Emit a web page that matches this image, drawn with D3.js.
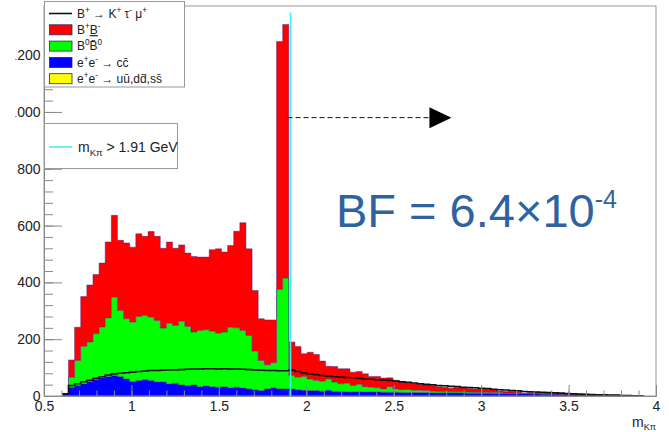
<!DOCTYPE html>
<html>
<head>
<meta charset="utf-8">
<script src="https://cdn.jsdelivr.net/npm/d3@7"></script>
<style>
   body { margin: 0; background: #fff; }
   svg { display: block; font-family: "Liberation Sans", Arial, Helvetica, sans-serif; }
</style>
</head>
<body>
<svg id="chart" width="669" height="432"></svg>
<script>
/*jslint browser: true*/
/*global d3*/

// m_Kpi histogram bins: 0.035 wide, first filled bin starts at 0.605
var binStart = 0.605,
   binWidth = 0.035;

// stacked backgrounds, one value per bin (not cumulative)
var ccbarCounts = [8, 31, 37, 43, 49, 57, 64, 69, 72, 69, 60, 51, 55, 58, 55, 49, 49, 43, 45, 39,
   37, 39, 33, 35, 33, 31, 33, 29, 31, 28, 25, 22, 19, 25, 29, 25, 25, 25, 22, 20,
   19, 19, 17, 20, 16, 16, 15, 15, 15, 14, 14, 14, 13, 13, 13, 12, 12, 12, 12, 12,
   11, 11, 11, 11, 11, 11, 10, 10, 10, 10, 9, 9, 9, 8, 8, 7, 7, 7, 6, 6,
   6, 5, 5, 5, 5, 4, 4, 3, 3, 2, 2, 2, 1, 1, 1];
var b0b0Counts = [0, 35, 88, 132, 141, 162, 179, 206, 276, 232, 212, 209, 225, 225, 223, 217, 190, 213, 203, 224,
   208, 186, 198, 198, 195, 190, 192, 213, 209, 203, 188, 136, 106, 85, 88, 350, 390, 47, 44, 49,
   41, 36, 35, 40, 33, 27, 30, 22, 26, 19, 17, 15, 12, 20, 12, 10, 11, 8, 8, 7,
   6, 5, 5, 4, 4, 4, 4, 3, 3, 3, 3, 3, 2, 2, 2, 2, 1, 1, 1, 1,
   0, 1, 0, 0, 0, 0, 0, 0, 0, 0, 0, 0, 0, 0, 0];
var bpbmCounts = [0, 61, 117, 175, 201, 209, 225, 267, 288, 247, 267, 264, 291, 279, 301, 296, 281, 286, 272, 269,
   258, 266, 258, 256, 287, 297, 282, 288, 340, 379, 305, 213, 147, 158, 151, 873, 893, 118, 108, 80,
   94, 91, 71, 45, 55, 53, 51, 47, 45, 45, 38, 40, 38, 31, 30, 27, 22, 23, 21, 20,
   18, 17, 15, 12, 14, 13, 12, 12, 11, 10, 10, 6, 5, 5, 3, 1, 4, 6, 3, 2,
   2, 2, 2, 2, 1, 2, 1, 1, 0, 1, 0, 0, 1, 0, 0];
// e+e- -> uu,dd,ss: nothing left after the selection
var udsCounts = [];

// signal B+ -> K+ tau- mu+, drawn as a line on top
var signalCounts = [8, 37, 43, 50, 55, 62, 68, 74, 78, 80, 82, 84, 86, 88, 90, 90, 91, 92, 92, 93,
   94, 95, 95, 96, 96, 95, 96, 95, 95, 94, 93, 92, 91, 90, 90, 89, 89, 91, 86, 81,
   78, 75, 72, 70, 68, 67, 65, 64, 62, 60, 59, 57, 56, 55, 53, 50, 48, 46, 43, 41,
   39, 37, 36, 34, 33, 31, 30, 29, 27, 26, 24, 22, 21, 19, 18, 16, 15, 14, 13, 12,
   11, 10, 9, 8, 7, 6, 5, 4, 4, 3, 3, 2, 2, 1, 1];

var xTicks = [0.5, 1, 1.5, 2, 2.5, 3, 3.5, 4],
   yTicks = [0, 200, 400, 600, 800, 1000, 1200];

// selection cut and the arrow showing the kept region
var cutValue = 1.91,
   cutTop = 1350,
   arrowEnd = 2.83,
   arrowLevel = 980,
   bfText = "BF = 6.4\u00d710",
   bfExponent = "-4";

(function () {
   "use strict";
   var svg = d3.select("#chart"),
      W = 669,
      H = 432,
      margin = {top: 6, right: 13, bottom: 36, left: 44},
      x = d3.scaleLinear().domain([0.5, 4]).range([margin.left, W - margin.right]),
      y = d3.scaleLinear().domain([0, 1373]).range([H - margin.bottom, margin.top]),
      keys = ["uds", "ccbar", "b0b0", "bpbm"],
      colors = {uds: "#ffff00", ccbar: "#0000ff", b0b0: "#00ff00", bpbm: "#ff0000"},
      rows,
      series,
      plot;

   rows = ccbarCounts.map(function (c, i) {
      return {
         lo: binStart + i * binWidth,
         uds: udsCounts[i] || 0,
         ccbar: c,
         b0b0: b0b0Counts[i],
         bpbm: bpbmCounts[i],
         sig: signalCounts[i]
      };
   });

   series = d3.stack().keys(keys)(rows);

   svg.append("rect").attr("width", W).attr("height", H).attr("fill", "#fff");

   svg.append("clipPath").attr("id", "plotClip")
      .append("rect")
      .attr("x", margin.left).attr("y", margin.top)
      .attr("width", W - margin.left - margin.right)
      .attr("height", H - margin.top - margin.bottom);

   plot = svg.append("g").attr("clip-path", "url(#plotClip)");

   //step points, with an extra one closing the last bin
   function stepPoints(s) {
      var pts = s.map(function (d) {
         return {x: d.data.lo, y0: d[0], y1: d[1]};
      }),
         last = pts[pts.length - 1];
      pts.push({x: last.x + binWidth, y0: last.y0, y1: last.y1});
      return pts;
   }

   var area = d3.area().curve(d3.curveStepAfter)
      .x(function (d) { return x(d.x); })
      .y0(function (d) { return y(d.y0); })
      .y1(function (d) { return y(d.y1); });

   var topLine = d3.line().curve(d3.curveStepAfter)
      .x(function (d) { return x(d.x); })
      .y(function (d) { return y(d.y1); });

   plot.selectAll(".layer").data(series).enter().append("path")
      .attr("class", "layer")
      .attr("d", function (s) { return area(stepPoints(s)); })
      .attr("fill", function (s) { return colors[s.key]; });

   //histogram outlines
   plot.selectAll(".edge").data(series.slice(1)).enter().append("path")
      .attr("class", "edge")
      .attr("d", function (s) { return topLine(stepPoints(s)); })
      .attr("fill", "none")
      .attr("stroke", "#3a1f8a")
      .attr("stroke-opacity", 0.55)
      .attr("stroke-width", 0.8);

   //signal
   var sigPts = rows.map(function (d) { return {x: d.lo, y1: d.sig}; });
   sigPts.push({x: sigPts[sigPts.length - 1].x + binWidth, y1: sigPts[sigPts.length - 1].y1});
   plot.append("path")
      .attr("d", topLine(sigPts))
      .attr("fill", "none")
      .attr("stroke", "#111")
      .attr("stroke-width", 1.6);

   //cut line
   plot.append("line")
      .attr("x1", x(cutValue)).attr("x2", x(cutValue))
      .attr("y1", y(0)).attr("y2", y(cutTop))
      .attr("stroke", "#3ff0f0")
      .attr("stroke-width", 1.6);

   //arrow
   plot.append("line")
      .attr("x1", x(cutValue) - 3).attr("x2", x(arrowEnd) - 22)
      .attr("y1", y(arrowLevel)).attr("y2", y(arrowLevel))
      .attr("stroke", "#111")
      .attr("stroke-width", 1)
      .attr("stroke-dasharray", "5,3");
   plot.append("path")
      .attr("d", "M" + x(arrowEnd) + "," + y(arrowLevel) +
         "L" + (x(arrowEnd) - 22) + "," + (y(arrowLevel) - 10.5) +
         "L" + (x(arrowEnd) - 22) + "," + (y(arrowLevel) + 10.5) + "Z")
      .attr("fill", "#000");

   //frame
   svg.append("rect")
      .attr("x", margin.left).attr("y", margin.top)
      .attr("width", W - margin.left - margin.right)
      .attr("height", H - margin.top - margin.bottom)
      .attr("fill", "none")
      .attr("stroke", "#999")
      .attr("stroke-width", 1);

   //axes, ticks pointing inwards
   var axisColor = "#8a8a8a";

   var xMinor = svg.append("g")
      .attr("transform", "translate(0," + y(0) + ")")
      .call(d3.axisBottom(x).tickValues(d3.range(0.5, 4.001, 0.1))
         .tickSize(-5.5).tickSizeOuter(0).tickFormat(""));
   var xMajor = svg.append("g")
      .attr("transform", "translate(0," + y(0) + ")")
      .call(d3.axisBottom(x).tickValues(xTicks)
         .tickSize(-11).tickSizeOuter(0).tickPadding(5)
         .tickFormat(function (d) { return String(d); }));

   //the picture is cropped on the left, the leading "1" of 1000/1200 is cut
   svg.append("clipPath").attr("id", "leftCrop")
      .append("rect").attr("x", 15.5).attr("y", 0).attr("width", W).attr("height", H);
   var yWrap = svg.append("g").attr("clip-path", "url(#leftCrop)");

   var yMinor = yWrap.append("g")
      .attr("transform", "translate(" + x(0.5) + ",0)")
      .call(d3.axisLeft(y).tickValues(d3.range(0, 1373, 40))
         .tickSize(-9).tickSizeOuter(0).tickFormat(""));
   var yMajor = yWrap.append("g")
      .attr("transform", "translate(" + x(0.5) + ",0)")
      .call(d3.axisLeft(y).tickValues(yTicks)
         .tickSize(-18).tickSizeOuter(0).tickPadding(3.5)
         .tickFormat(function (d) { return String(d); }));

   [xMinor, xMajor, yMinor, yMajor].forEach(function (g) {
      g.selectAll("path, line").attr("stroke", axisColor);
      g.selectAll("text").attr("fill", "#222").attr("font-size", 14)
         .attr("font-family", "'Liberation Sans', Arial, sans-serif");
   });

   //axis title
   var xt = svg.append("text")
      .attr("x", 632).attr("y", 427)
      .attr("font-size", 14).attr("fill", "#222");
   xt.append("tspan").text("m");
   xt.append("tspan").attr("font-size", 9).attr("dy", 3).text("K\u03c0");

   //rich text helper: parts are [text, kind]
   function richText(sel, parts, size) {
      var shift = 0;
      parts.forEach(function (p) {
         var kind = p[1] || "",
            t = sel.append("tspan").text(p[0]),
            target = 0;
         if (kind.indexOf("sup") >= 0) {
            target = -0.42 * size;
            t.attr("font-size", size * 0.68);
         } else if (kind.indexOf("sub") >= 0) {
            target = 0.25 * size;
            t.attr("font-size", size * 0.68);
         }
         t.attr("dy", target - shift);
         shift = target;
         if (kind.indexOf("under") >= 0) {
            t.attr("text-decoration", "underline");
         }
      });
   }

   //legend of the samples
   var legend = svg.append("g");
   legend.append("rect")
      .attr("x", 44.5).attr("y", 1.5).attr("width", 140).attr("height", 85.5)
      .attr("fill", "#fff").attr("stroke", "#999");

   var entries = [
      {kind: "line", color: "#111", parts: [["B"], ["+", "sup"], [" \u2192 K"], ["+", "sup"], [" \u03c4"], ["-", "sup"], [" \u03bc"], ["+", "sup"]]},
      {kind: "box", color: colors.bpbm, parts: [["B"], ["+", "sup"], ["B", "under"], ["-", "sup"]]},
      {kind: "box", color: colors.b0b0, parts: [["B"], ["0", "sup"], ["B\u0304"], ["0", "sup"]]},
      {kind: "box", color: colors.ccbar, parts: [["e"], ["+", "sup"], ["e"], ["-", "sup"], [" \u2192 cc\u0304"]]},
      {kind: "box", color: colors.uds, parts: [["e"], ["+", "sup"], ["e"], ["-", "sup"], [" \u2192 u\u016b,dd\u0304,ss\u0304"]]}
   ];

   entries.forEach(function (e, i) {
      var cy = 13.5 + i * 16.3,
         t;
      if (e.kind === "line") {
         legend.append("line")
            .attr("x1", 49).attr("x2", 72).attr("y1", cy).attr("y2", cy)
            .attr("stroke", e.color).attr("stroke-width", 1.6);
      } else {
         legend.append("rect")
            .attr("x", 49.5).attr("y", cy - 5).attr("width", 22.5).attr("height", 10)
            .attr("fill", e.color).attr("stroke", "#2a2a55").attr("stroke-width", 0.8);
      }
      t = legend.append("text")
         .attr("x", 77).attr("y", cy + 4.3)
         .attr("font-size", 12).attr("fill", "#222");
      richText(t, e.parts, 12);
   });

   //legend of the cut
   var cutLegend = svg.append("g");
   cutLegend.append("rect")
      .attr("x", 44.5).attr("y", 123.5).attr("width", 133).attr("height", 45)
      .attr("fill", "#fff").attr("stroke", "#999");
   cutLegend.append("line")
      .attr("x1", 49).attr("x2", 72).attr("y1", 147).attr("y2", 147)
      .attr("stroke", "#3ff0f0").attr("stroke-width", 1.6);
   var ct = cutLegend.append("text")
      .attr("x", 78).attr("y", 152)
      .attr("font-size", 14).attr("fill", "#222");
   richText(ct, [["m"], ["K\u03c0", "sub"], [" > " + cutValue + " GeV"]], 14);

   //branching fraction
   var bf = svg.append("text")
      .attr("x", 336).attr("y", 227)
      .attr("font-size", 47)
      .attr("fill", "#2f63a0")
      .attr("font-family", "'Liberation Sans', Arial, sans-serif");
   bf.append("tspan").text(bfText);
   bf.append("tspan").attr("font-size", 25).attr("dy", -19).text(bfExponent);
}());
</script>
</body>
</html>
